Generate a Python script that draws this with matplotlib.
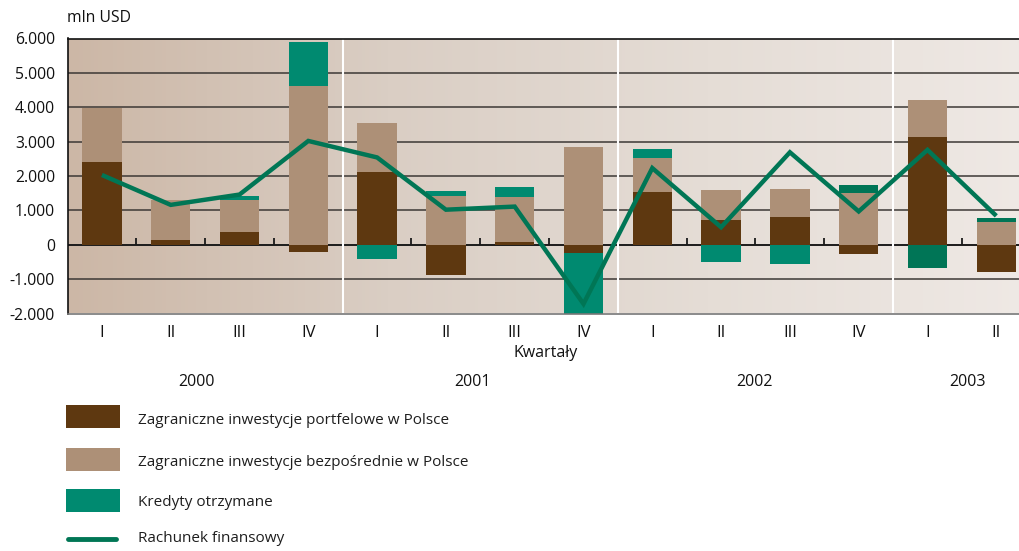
import matplotlib
matplotlib.use("Agg")
import matplotlib.pyplot as plt
import numpy as np
from matplotlib.colors import LinearSegmentedColormap
from matplotlib.patches import Rectangle
from matplotlib.lines import Line2D

# ---- data ----
quarters = ["I", "II", "III", "IV", "I", "II", "III", "IV", "I", "II", "III", "IV", "I", "II"]
years = ["2000", "2001", "2002", "2003"]
portfolio = [2410, 145, 380, -225, 2120, -870, 70, -230, 1540, 730, 810, -260, 3140, -790]
direct = [1580, 1165, 930, 4620, 1430, 1420, 1330, 2850, 990, 870, 820, 1510, 1070, 670]
credits = [-20, 0, 110, 1280, -410, 150, 290, -1950, 260, -510, -550, 230, -670, 120]
financial = [2030, 1160, 1460, 3020, 2540, 1020, 1110, -1720, 2230, 510, 2690, 970, 2760, 840]
yticks = [-2000, -1000, 0, 1000, 2000, 3000, 4000, 5000, 6000]
ytick_labels = ["-2.000", "-1.000", "0", "1.000", "2.000", "3.000", "4.000", "5.000", "6.000"]
labels = ["Zagraniczne inwestycje portfelowe w Polsce",
          "Zagraniczne inwestycje bezpośrednie w Polsce",
          "Kredyty otrzymane",
          "Rachunek finansowy"]

plt.rcParams['font.family'] = ['Open Sans', 'DejaVu Sans']

C_DARK = "#5e3810"
C_LIGHT = "#ad9077"
C_TEAL = "#008a70"
C_TEAL2 = "#007556"
C_LINE = "#007655"
TXT = "#111111"

W, H = 1019, 551
fig = plt.figure(figsize=(W / 100, H / 100), dpi=100)
fig.patch.set_facecolor("white")

ax_left, ax_right, ax_top, ax_bot = 67.5, 1030.7, 38.5, 313.5
ax = fig.add_axes([ax_left / W, 1 - ax_bot / H, (ax_right - ax_left) / W, (ax_bot - ax_top) / H])

n = len(quarters)
x = np.arange(n)
ax.set_xlim(-0.5, n - 0.5)
ax.set_ylim(-2000, 6000)

# background gradient
cmap = LinearSegmentedColormap.from_list("bg", ["#ccb7a6", "#dacec4", "#e5ddd6", "#efe9e5"])
grad = np.linspace(0, 1, 256).reshape(1, -1)
ax.imshow(grad, cmap=cmap, aspect="auto", extent=(-0.5, n - 0.5, -2000, 6000), zorder=0)

# grid lines
for yv in yticks[1:-1]:
    ax.axhline(yv, color="#3c3835", lw=1.1, zorder=1)
ax.axhline(0, color="#1a1a1a", lw=1.3, zorder=1)

# year separators
for b in [3.5, 7.5, 11.5]:
    ax.axvline(b, color="white", lw=1.5, zorder=1.5)

# stacked bars
teal_colors = [C_TEAL] * 11 + [C_TEAL2] * 3
bw = 0.57
pos = np.zeros(n)
neg = np.zeros(n)
for vals, col in [(portfolio, [C_DARK] * n), (direct, [C_LIGHT] * n), (credits, teal_colors)]:
    v = np.array(vals, dtype=float)
    bottoms = np.where(v >= 0, pos, neg)
    ax.bar(x, v, bw, bottom=bottoms, color=col, zorder=2, linewidth=0)
    pos = pos + np.where(v >= 0, v, 0)
    neg = neg + np.where(v < 0, v, 0)

# tick marks on the zero line
tick_pos = [b + 0.5 for b in range(n - 1) if (b + 1) % 4 != 0]
ax.vlines(tick_pos, 0, 200, color="#1a1a1a", lw=1.3, zorder=1.2)

# line
ax.plot(x, financial, color=C_LINE, lw=3.2, zorder=3, solid_capstyle="butt", solid_joinstyle="miter")

# spines
for s in ["left", "top"]:
    ax.spines[s].set_color("#111111")
    ax.spines[s].set_linewidth(1.2)
ax.spines["bottom"].set_color("#777777")
ax.spines["bottom"].set_linewidth(1.2)
ax.spines["right"].set_visible(False)

ax.set_yticks(yticks)
ax.set_yticklabels(ytick_labels, fontsize=11.3, color=TXT)
ax.tick_params(axis="y", length=0, pad=9)
ax.set_xticks(x)
ax.set_xticklabels(quarters, fontsize=12, color=TXT)
ax.tick_params(axis="x", length=0, pad=8)

def px(xp, yp):
    return xp / W, 1 - yp / H

fig.text(*px(67, 18), "mln USD", fontsize=11.3, ha="left", va="center", color=TXT)
fig.text(*px(546, 353), "Kwartały", fontsize=11.5, ha="center", va="center", color=TXT)

# year labels
def xdata_to_px(xd):
    return ax_left + (xd + 0.5) * (ax_right - ax_left) / n

year_centers = [1.38, 5.38, 9.49, 12.58]
for yr, xc in zip(years, year_centers):
    fig.text(*px(xdata_to_px(xc), 382), yr, fontsize=11.5, ha="center", va="center", color=TXT)

# legend
patch_specs = [(405, 428, C_DARK), (448, 471, C_LIGHT), (489, 512, C_TEAL)]
for y0, y1, c in patch_specs:
    fx, fy = px(66, y1)
    fig.patches.append(Rectangle((fx, fy), (120 - 66) / W, (y1 - y0) / H, transform=fig.transFigure,
                                 facecolor=c, edgecolor="none"))
lx0, ly = px(68, 539)
lx1, _ = px(116, 539)
fig.lines.append(Line2D([lx0, lx1], [ly, ly], transform=fig.transFigure, color=C_LINE, lw=3.5,
                        solid_capstyle="round"))
for lab, yc in zip(labels, [420, 462, 503, 539]):
    fig.text(*px(138, yc), lab, fontsize=11, ha="left", va="center", color="#1e1e1e")

fig.savefig("out.png", dpi=100)
